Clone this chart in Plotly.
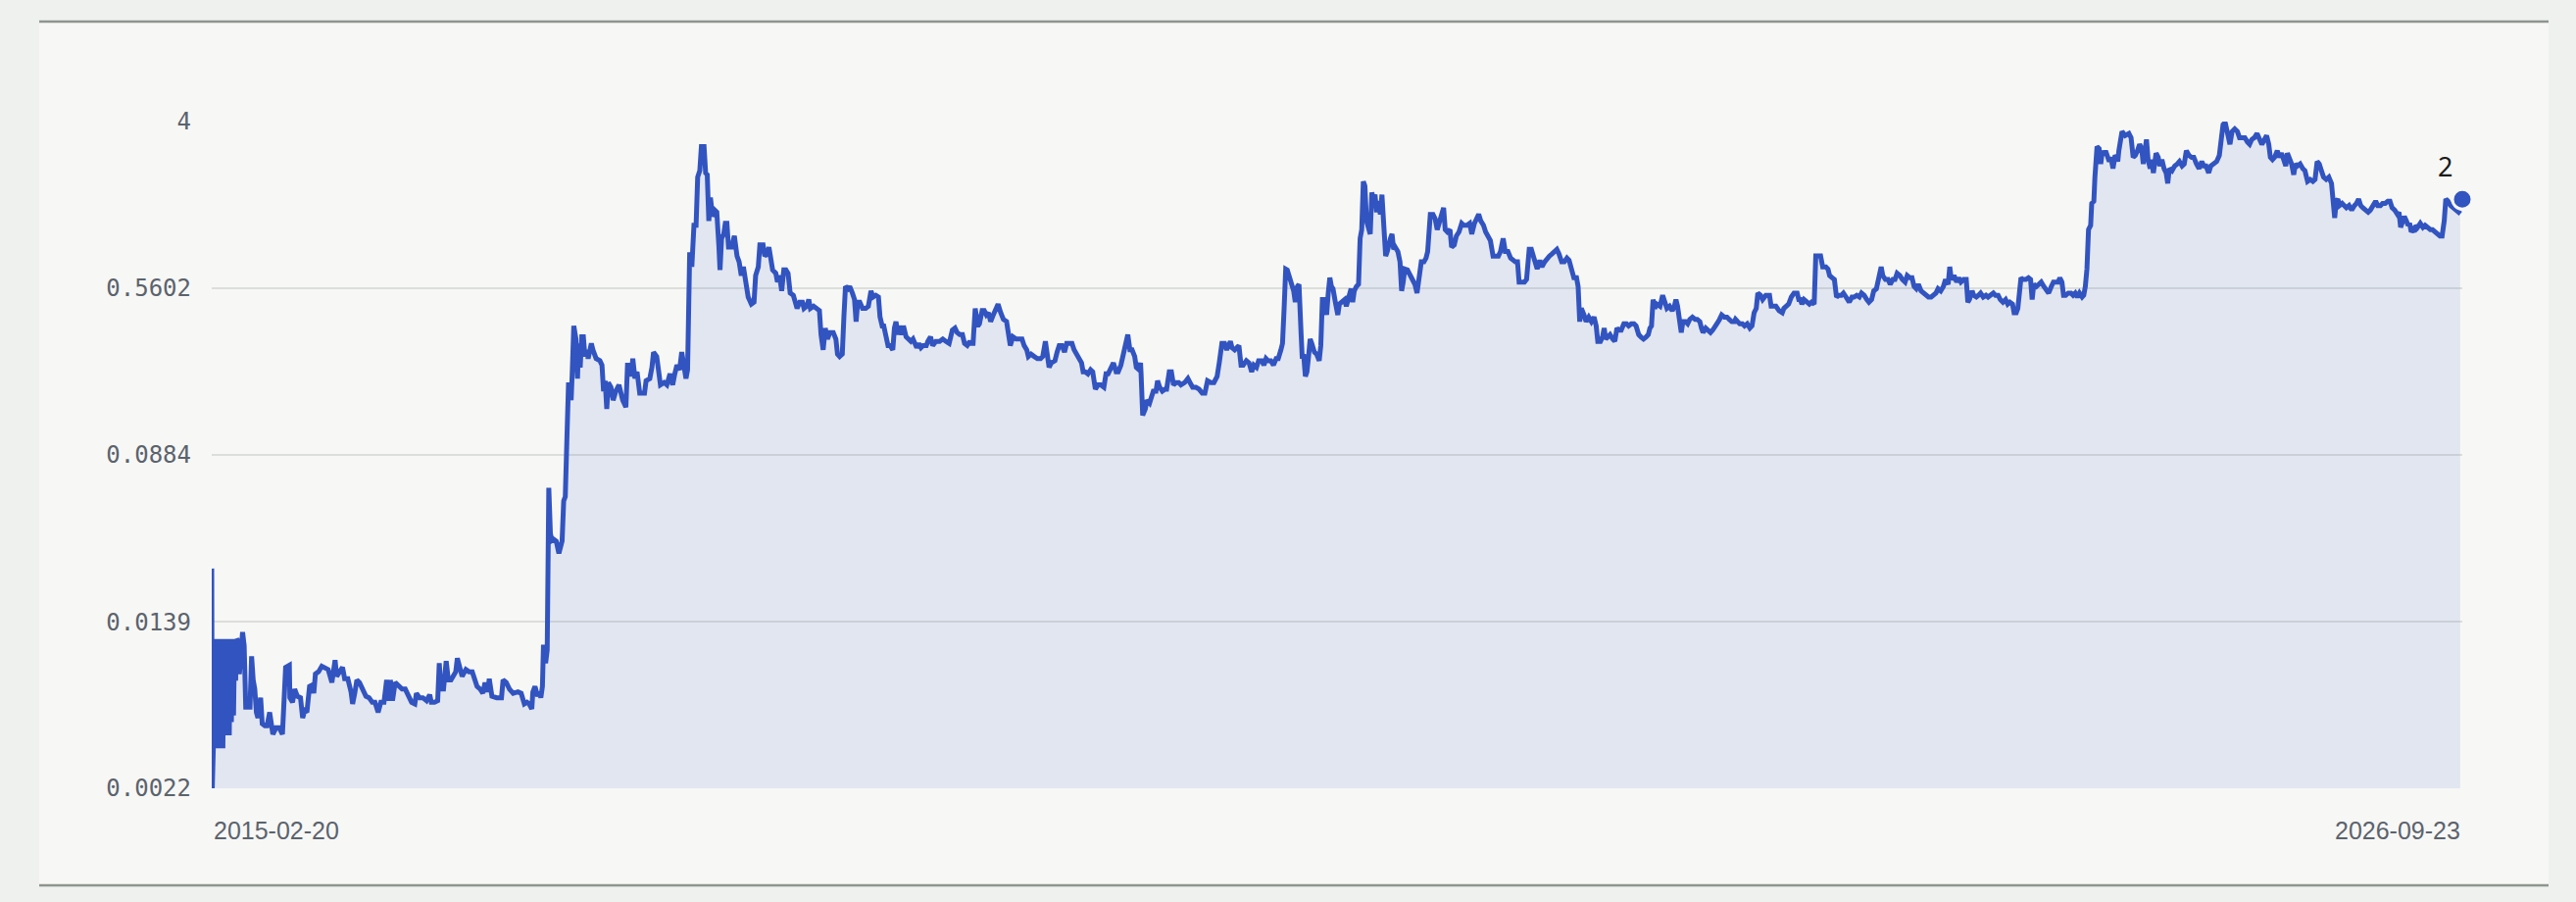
import numpy as np
import pandas as pd
import plotly.graph_objects as go

START = "2015-02-20"
END = "2026-09-23"

# y-axis ticks (log scale, evenly spaced in log) and their labels
y_tick_vals = [0.0022, 0.0139, 0.0884, 0.5602, 3.55]
y_tick_text = ["0.0022", "0.0139", "0.0884", "0.5602", "4"]

# --- series: days since START and values ---
days_2015 = [0, 1, 2, 3, 4, 5, 7, 9, 11, 13, 15, 17, 19, 21, 23, 25, 27, 29, 31, 33, 35, 37, 39, 41, 43, 45, 47,
             50, 52, 55, 58, 61, 64, 72, 75, 78, 81, 84, 87, 92, 95, 100, 104, 109, 112, 115, 121, 127, 133, 136,
             139, 146, 147, 152, 156, 161, 167, 171, 175, 179, 184, 189, 192, 195, 201, 207, 213, 219, 226, 232,
             235, 240, 246, 250, 256, 262, 265, 269, 273, 278, 284, 290, 296, 302, 307, 313, 318, 324, 329, 333,
             336, 340, 345, 351, 358, 364, 370, 376, 382, 385, 391, 397, 404, 410, 413, 419, 425, 428, 431, 436,
             441, 445, 450, 455, 459, 462, 467, 471, 478, 484, 490, 494, 499, 505, 510, 514, 519, 522, 527, 536,
             545, 548, 554, 560, 567, 576, 582, 588, 593, 597, 602, 604, 608, 613, 616, 619, 622, 624, 628, 631,
             633, 634, 637, 640, 643, 648, 653, 659, 662, 665, 668, 671, 674, 676, 678, 681, 685, 688, 690, 693,
             696, 699, 702, 705]
vals_2015 = [0.0251, 0.0022, 0.0115, 0.00343, 0.0115, 0.00343, 0.0115, 0.00343, 0.0115, 0.00343, 0.0115, 0.00343,
             0.0115, 0.00343, 0.0115, 0.00396, 0.0115, 0.00396, 0.0115, 0.00396, 0.0115, 0.00458, 0.0115, 0.00493,
             0.0115, 0.00726, 0.0115,
             0.0112, 0.0078, 0.0110, 0.0124, 0.0107, 0.0054, 0.0054, 0.0095, 0.0073, 0.0066, 0.0051, 0.0048, 0.0060,
             0.0045, 0.0044, 0.0044, 0.0051, 0.0043, 0.0040, 0.0043, 0.0043, 0.0040, 0.0053,
             0.0084, 0.0086, 0.0060, 0.0057, 0.0066, 0.0061, 0.0060, 0.0048, 0.0052, 0.0051, 0.0068, 0.0069, 0.0063,
             0.0078, 0.0080, 0.0085, 0.0083, 0.0082, 0.0071, 0.0091,
             0.0076, 0.0080, 0.0084, 0.0074, 0.0074, 0.0064, 0.0056, 0.0063, 0.0073, 0.0071, 0.0066, 0.0061, 0.0060,
             0.0057, 0.0057, 0.0051, 0.0057, 0.0057, 0.0073, 0.0058,
             0.0073, 0.0058, 0.0071, 0.0068, 0.0066, 0.0066, 0.0061, 0.0057, 0.0056, 0.0063, 0.0060, 0.0060, 0.0058,
             0.0062, 0.0057, 0.0057, 0.0058, 0.0088, 0.0066, 0.0066,
             0.0090, 0.0073, 0.0073, 0.0078, 0.0080, 0.0093, 0.0084, 0.0076, 0.0082, 0.0080, 0.0080, 0.0074, 0.0068,
             0.0066, 0.0063, 0.0071, 0.0064, 0.0074, 0.0061, 0.0060,
             0.0060, 0.0073, 0.0071, 0.0066, 0.0063, 0.0064, 0.0063, 0.0056, 0.0057, 0.0056, 0.0053, 0.0064, 0.0068,
             0.0061, 0.0064, 0.0060, 0.0068, 0.0108, 0.0088, 0.0102,
             0.0216, 0.0614, 0.0369, 0.0343, 0.0347, 0.0340, 0.0297, 0.0340, 0.0531, 0.0557, 0.1047, 0.192, 0.192,
             0.162, 0.217, 0.369, 0.320, 0.206, 0.304, 0.233,
             0.327, 0.327, 0.263, 0.283]

days_2017 = [708, 714, 717, 723, 730, 734, 737, 740, 743, 746, 751, 755, 760, 766, 773, 779, 782, 786, 789, 792,
             796, 800, 805, 809, 814, 817, 824, 828, 831, 837, 840, 844, 851, 856, 862, 867, 871, 875, 880, 884,
             888, 892, 895, 899, 903, 907, 911, 914, 918, 921, 926, 929, 932, 935, 938, 942, 946, 950, 954, 956,
             959, 963, 966, 969, 972, 978, 983, 988, 992, 996, 1000, 1004, 1009, 1015, 1020, 1023, 1028, 1031,
             1037, 1040, 1045, 1048, 1052, 1055, 1061, 1064, 1068, 1072, 1076, 1080, 1084, 1088, 1094, 1098, 1101,
             1106, 1111, 1114, 1119, 1123, 1126, 1132, 1138, 1143, 1146, 1150, 1154, 1158, 1163, 1169, 1174, 1177,
             1181, 1186, 1189, 1192, 1197, 1200, 1205, 1209, 1212, 1215, 1219, 1224, 1230, 1235, 1240, 1244, 1249,
             1254, 1257, 1261, 1264, 1268, 1272, 1276, 1281, 1284, 1287, 1291, 1294, 1298, 1301, 1306, 1310, 1315,
             1319, 1326, 1330, 1334, 1338, 1344, 1347, 1352, 1356, 1362, 1369, 1375, 1381, 1387, 1393, 1398, 1402,
             1407, 1412, 1416, 1421, 1426]
vals_2017 = [0.257, 0.304, 0.283, 0.257, 0.251, 0.239, 0.179, 0.201, 0.147, 0.197, 0.187, 0.162, 0.179, 0.192,
             0.162, 0.150, 0.239, 0.239, 0.211, 0.257,
             0.206, 0.222, 0.175, 0.175, 0.175, 0.201, 0.206, 0.233, 0.276, 0.263, 0.227, 0.192, 0.197, 0.192,
             0.217, 0.192, 0.217, 0.239, 0.227, 0.276,
             0.239, 0.206, 0.227, 0.834, 0.71, 1.125, 1.125, 1.92, 2.06, 2.69, 2.69, 2.01, 1.97, 1.18, 1.53, 1.24,
             1.33, 1.30, 0.883, 0.686,
             0.973, 1.021, 1.15, 1.15, 0.883, 0.883, 1.0, 0.80, 0.75, 0.645, 0.71, 0.617, 0.508, 0.470, 0.48, 0.645,
             0.71, 0.905,
             0.905, 0.80, 0.82, 0.883, 0.764, 0.686, 0.661, 0.60, 0.645, 0.544, 0.686, 0.686, 0.661, 0.531, 0.518,
             0.470, 0.448,
             0.48, 0.48, 0.448, 0.459, 0.494, 0.448, 0.459, 0.448, 0.437, 0.335, 0.283, 0.36, 0.319, 0.343, 0.343,
             0.319, 0.27,
             0.263, 0.27, 0.407, 0.571, 0.557, 0.571, 0.531, 0.494, 0.387, 0.48, 0.48, 0.448, 0.448, 0.459, 0.544,
             0.508, 0.518,
             0.508, 0.407, 0.369, 0.369, 0.335, 0.297, 0.297, 0.283, 0.36, 0.387, 0.335, 0.369, 0.335, 0.369, 0.327,
             0.319, 0.311,
             0.319, 0.29, 0.304, 0.29, 0.297, 0.297, 0.311, 0.327, 0.297, 0.311, 0.311, 0.319, 0.311, 0.304, 0.352,
             0.36, 0.343,
             0.335, 0.335, 0.304, 0.297, 0.311]

days_2019 = [1428, 1432, 1436, 1441, 1444, 1449, 1453, 1457, 1461, 1465, 1470, 1475, 1479, 1484, 1489, 1495, 1498,
             1502, 1507, 1513, 1519, 1524, 1528, 1533, 1536, 1541, 1547, 1553, 1559, 1563, 1568, 1571, 1575, 1579,
             1586, 1590, 1594, 1599, 1604, 1608, 1613, 1618, 1622, 1627, 1631, 1636, 1639, 1643, 1648, 1653, 1657,
             1662, 1667, 1672, 1678, 1682, 1686, 1691, 1696, 1701, 1705, 1710, 1715, 1719, 1723, 1727, 1731, 1736,
             1739, 1744, 1747, 1748, 1751, 1756, 1759, 1764, 1768, 1771, 1776, 1779, 1783, 1788, 1793, 1796, 1801,
             1805, 1809, 1814, 1819, 1823, 1830, 1836, 1840, 1845, 1851, 1857, 1863, 1868, 1873, 1879, 1885, 1891,
             1895, 1900, 1905, 1909, 1916, 1919, 1924, 1928, 1932, 1936, 1940, 1946, 1951, 1956, 1960, 1965, 1969,
             1975, 1979, 1983, 1987, 1992, 1997, 2002, 2006, 2011, 2014, 2017, 2020, 2023, 2026, 2029, 2032, 2035,
             2038, 2042, 2045, 2046, 2049, 2051, 2054, 2057, 2060, 2063, 2066, 2069, 2074, 2078, 2083, 2086, 2089,
             2093, 2097, 2100, 2103, 2106, 2109, 2114, 2118, 2121, 2126, 2131, 2134, 2139, 2143]
vals_2019 = [0.304, 0.304, 0.448, 0.369, 0.378, 0.437, 0.437, 0.417, 0.427, 0.387, 0.417, 0.448, 0.470, 0.427,
             0.397, 0.387, 0.335,
             0.297, 0.327, 0.319, 0.319, 0.319, 0.297, 0.283, 0.263, 0.27, 0.263, 0.257, 0.257, 0.263, 0.311, 0.263,
             0.233, 0.245,
             0.251, 0.276, 0.297, 0.297, 0.276, 0.304, 0.304, 0.304, 0.283, 0.27, 0.257, 0.245, 0.222, 0.222, 0.217,
             0.227, 0.222,
             0.183, 0.192, 0.192, 0.187, 0.217, 0.217, 0.233, 0.245, 0.222, 0.222, 0.239, 0.276, 0.29, 0.335, 0.283,
             0.283, 0.263,
             0.233, 0.227, 0.245, 0.217, 0.137, 0.147, 0.162, 0.157, 0.166, 0.179, 0.179, 0.201, 0.187, 0.179, 0.183,
             0.183, 0.222,
             0.222, 0.192, 0.197, 0.197, 0.192, 0.197, 0.206, 0.197, 0.187, 0.187, 0.183, 0.175, 0.175, 0.201, 0.197,
             0.197, 0.211,
             0.245, 0.304, 0.304, 0.283, 0.311, 0.29, 0.283, 0.29, 0.297, 0.239, 0.239, 0.251, 0.245, 0.222, 0.239,
             0.233, 0.251,
             0.251, 0.239, 0.257, 0.251, 0.251, 0.239, 0.257, 0.257, 0.283, 0.304, 0.448, 0.693, 0.686, 0.645, 0.617,
             0.571, 0.544,
             0.48, 0.571, 0.585, 0.459, 0.335, 0.263, 0.263, 0.211, 0.222, 0.263, 0.319, 0.304, 0.276, 0.27, 0.251,
             0.297, 0.494,
             0.494, 0.417, 0.531, 0.629, 0.571, 0.557, 0.470, 0.417, 0.470, 0.48, 0.494, 0.459, 0.518, 0.557]

days_2021 = [2146, 2149, 2153, 2157, 2160, 2163, 2166, 2169, 2172, 2176, 2179, 2182, 2185, 2188, 2191, 2194, 2198,
             2201, 2204, 2208, 2211, 2214, 2217, 2220, 2223, 2226, 2231, 2235, 2238, 2241, 2244, 2249, 2254, 2259,
             2263, 2267, 2271, 2275, 2280, 2284, 2287, 2290, 2292, 2297, 2301, 2305, 2308, 2312, 2317, 2320, 2324,
             2329, 2332, 2337, 2341, 2346, 2351, 2355, 2361, 2366, 2370, 2375, 2380, 2383, 2387, 2392, 2396, 2401,
             2405, 2410, 2415, 2420, 2424, 2429, 2433, 2438, 2443, 2447, 2452, 2456, 2459, 2464, 2469, 2473, 2478,
             2482, 2486, 2489, 2493, 2498, 2502, 2507, 2512, 2516, 2521, 2526, 2530, 2534, 2539, 2544, 2549, 2553,
             2558, 2562, 2567, 2570, 2573, 2576, 2581, 2585, 2590, 2595, 2600, 2604, 2607, 2612, 2616, 2619, 2622,
             2627, 2630, 2635, 2639, 2643, 2647, 2651, 2656, 2661, 2665, 2670, 2675, 2679, 2684, 2688, 2693, 2698,
             2702, 2705, 2708, 2711, 2714, 2718, 2724, 2729, 2733, 2737, 2742, 2747, 2751, 2754, 2757, 2761, 2764,
             2767, 2772, 2776, 2780, 2785, 2790, 2794, 2799, 2802, 2805, 2810, 2815, 2819, 2823, 2827, 2831, 2836,
             2840, 2845, 2850, 2854, 2859, 2864]
vals_2021 = [0.48, 0.544, 0.571, 0.585, 0.973, 1.072, 1.83, 1.74, 1.18, 1.072, 1.021, 1.62, 1.505, 1.58, 1.30,
             1.47, 1.27,
             1.58, 1.125, 0.80, 0.841, 0.927, 0.973, 1.021, 0.862, 0.883, 0.841, 0.75, 0.544, 0.60, 0.693, 0.686,
             0.645, 0.617,
             0.585, 0.531, 0.617, 0.75, 0.75, 0.783, 0.841, 1.021, 1.27, 1.27, 1.21, 1.072, 1.15, 1.21, 1.366, 1.072,
             1.046,
             1.072, 0.883, 0.905, 1.0, 1.046, 1.15, 1.125, 1.125, 1.15, 1.021, 1.15, 1.21, 1.27, 1.18, 1.125, 1.046,
             1.0,
             0.95, 0.80, 0.80, 0.80, 0.841, 0.973, 0.841, 0.841, 0.783, 0.764, 0.75, 0.75, 0.60, 0.60, 0.60, 0.617,
             0.862,
             0.862, 0.80, 0.764, 0.693, 0.764, 0.71, 0.75, 0.783, 0.80, 0.82, 0.841, 0.862, 0.82, 0.75, 0.75, 0.783,
             0.764,
             0.686, 0.629, 0.629, 0.571, 0.387, 0.448, 0.417, 0.387, 0.407, 0.387, 0.407, 0.369, 0.311, 0.311, 0.327,
             0.36, 0.319,
             0.327, 0.335, 0.319, 0.311, 0.36, 0.352, 0.352, 0.378, 0.378, 0.369, 0.378, 0.378, 0.369, 0.335, 0.327,
             0.319, 0.327,
             0.335, 0.36, 0.369, 0.494, 0.448, 0.470, 0.459, 0.518, 0.48, 0.448, 0.459, 0.437, 0.459, 0.494, 0.459,
             0.36, 0.343,
             0.387, 0.387, 0.378, 0.397, 0.407, 0.397, 0.397, 0.387, 0.36, 0.343, 0.36, 0.352, 0.343, 0.352, 0.369,
             0.378, 0.397,
             0.417, 0.407, 0.407, 0.397, 0.387, 0.387]

days_2023 = [2866, 2870, 2874, 2879, 2883, 2888, 2893, 2897, 2901, 2905, 2908, 2913, 2917, 2923, 2930, 2933, 2938,
             2942, 2948, 2954, 2957, 2962, 2966, 2971, 2976, 2982, 2985, 2988, 2991, 2995, 3000, 3005, 3009, 3014,
             3017, 3022, 3026, 3030, 3036, 3040, 3043, 3048, 3052, 3056, 3060, 3065, 3069, 3074, 3080, 3085, 3089,
             3094, 3099, 3103, 3108, 3113, 3117, 3122, 3126, 3131, 3135, 3140, 3143, 3148, 3153, 3157, 3162, 3166,
             3170, 3175, 3180, 3185, 3189, 3194, 3198, 3202, 3206, 3210, 3215, 3220, 3225, 3229, 3234, 3239, 3243,
             3247, 3252, 3257, 3261, 3266, 3269, 3272, 3277, 3282, 3286, 3290, 3295, 3300, 3303, 3306, 3311, 3314,
             3319, 3323, 3327, 3332, 3337, 3341, 3346, 3351, 3355, 3360, 3364, 3369, 3374, 3378, 3382, 3387, 3390,
             3394, 3397, 3400, 3403, 3407, 3412, 3417, 3421, 3424, 3427, 3432, 3437, 3441, 3446, 3450, 3455, 3460,
             3464, 3468, 3473, 3476, 3480, 3483, 3487, 3492, 3497, 3501, 3505, 3509, 3513, 3518, 3521, 3524, 3527,
             3530, 3534, 3536, 3540, 3542, 3544, 3546, 3550, 3553, 3556, 3559, 3562, 3566, 3569, 3572, 3576, 3580,
             3583]
vals_2023 = [0.397, 0.387, 0.378, 0.378, 0.369, 0.378, 0.36, 0.369, 0.427, 0.448, 0.531, 0.518, 0.494, 0.518,
             0.518, 0.459, 0.459,
             0.459, 0.437, 0.427, 0.448, 0.459, 0.470, 0.508, 0.531, 0.531, 0.494, 0.494, 0.470, 0.494, 0.48, 0.470,
             0.48, 0.470,
             0.802, 0.802, 0.802, 0.71, 0.71, 0.693, 0.645, 0.629, 0.617, 0.508, 0.518, 0.518, 0.531, 0.508, 0.48,
             0.508, 0.508,
             0.518, 0.508, 0.531, 0.518, 0.494, 0.48, 0.494, 0.544, 0.557, 0.617, 0.71, 0.645, 0.617, 0.617, 0.585,
             0.617, 0.617,
             0.661, 0.645, 0.617, 0.60, 0.645, 0.629, 0.629, 0.571, 0.557, 0.585, 0.544, 0.531, 0.518, 0.508, 0.508,
             0.518, 0.531,
             0.557, 0.544, 0.571, 0.617, 0.585, 0.71, 0.617, 0.645, 0.60, 0.629, 0.60, 0.617, 0.617, 0.48, 0.494,
             0.544, 0.518,
             0.508, 0.518, 0.531, 0.508, 0.518, 0.508, 0.518, 0.531, 0.518, 0.518, 0.494, 0.48, 0.494, 0.470, 0.48,
             0.470, 0.427,
             0.427, 0.448, 0.544, 0.629, 0.617, 0.617, 0.629, 0.617, 0.494, 0.585, 0.571, 0.585, 0.60, 0.571, 0.557,
             0.531, 0.571,
             0.60, 0.60, 0.60, 0.629, 0.60, 0.518, 0.518, 0.531, 0.531, 0.518, 0.531, 0.508, 0.531, 0.508, 0.518,
             0.571, 0.693,
             1.072, 1.125, 1.434, 1.47, 1.92, 2.57, 2.69, 2.63, 2.22, 2.57, 2.44, 2.57, 2.33, 2.28, 2.39, 2.11, 2.44,
             2.39]

days_2025 = [3585, 3587, 3593, 3599, 3606, 3610, 3614, 3618, 3622, 3626, 3630, 3633, 3636, 3639, 3642, 3646, 3649,
             3652, 3657, 3661, 3664, 3668, 3672, 3676, 3679, 3682, 3687, 3692, 3697, 3701, 3706, 3710, 3714, 3719,
             3724, 3728, 3733, 3738, 3743, 3747, 3751, 3756, 3760, 3765, 3771, 3776, 3779, 3783, 3787, 3791, 3796,
             3800, 3805, 3810, 3814, 3819, 3824, 3829, 3833, 3837, 3842, 3847, 3851, 3856, 3861, 3865, 3869, 3872,
             3876, 3880, 3885, 3889, 3893, 3897, 3901, 3904, 3908, 3912, 3916, 3919, 3923, 3928, 3933, 3937, 3942,
             3947, 3952, 3956, 3960, 3964, 3968, 3972, 3977, 3982, 3987, 3990, 3993, 3996, 3999, 4002, 4007, 4011,
             4015, 4020, 4025, 4030, 4034, 4038, 4042, 4046, 4051, 4056, 4060, 4065, 4070, 4074, 4079, 4083, 4088,
             4093, 4097, 4101, 4106, 4111, 4114, 4117, 4120, 4124, 4128, 4131, 4134, 4137, 4140, 4143, 4146, 4149,
             4154, 4159, 4163, 4168, 4173, 4177, 4181, 4186, 4191, 4195, 4199, 4202, 4206, 4211, 4216, 4220, 4226,
             4229]
vals_2025 = [2.28, 2.57, 3.18, 3.04, 3.11, 2.97, 2.39, 2.44, 2.57, 2.76, 2.63, 2.22, 2.57, 2.91, 2.33, 2.11, 2.33,
             2.01, 2.50, 2.39, 2.17, 2.33, 2.11, 2.01, 1.79, 2.11, 2.06, 2.17, 2.22, 2.28, 2.17, 2.22, 2.57, 2.44,
             2.39, 2.39, 2.22, 2.11, 2.28, 2.17, 2.17, 2.01, 2.17, 2.22, 2.28, 2.44, 2.97, 3.43, 3.52, 3.18, 2.76,
             3.18, 3.27, 3.18, 2.97, 2.97, 2.97, 2.83, 2.76, 2.91, 2.97, 3.11, 2.97, 2.76, 2.91, 3.04, 2.76, 2.39,
             2.33, 2.39, 2.57, 2.39, 2.50, 2.33, 2.17, 2.50, 2.33, 2.22, 1.97, 2.22, 2.17, 2.22, 2.11, 2.06, 1.83,
             1.87, 1.83, 1.87, 2.28, 2.22, 2.06, 1.92, 1.87, 1.92, 1.79, 1.55, 1.22, 1.47, 1.505, 1.40, 1.434, 1.40,
             1.366, 1.40, 1.33, 1.40, 1.434, 1.505, 1.40, 1.366, 1.33, 1.30, 1.33, 1.40, 1.47, 1.40, 1.40, 1.434,
             1.434, 1.47, 1.47, 1.366, 1.33, 1.27, 1.30, 1.10, 1.15, 1.24, 1.18, 1.125, 1.15, 1.046, 1.072, 1.046,
             1.125, 1.10, 1.15, 1.10, 1.125, 1.10, 1.072, 1.072, 1.046, 1.021, 1.0, 1.0, 1.18, 1.505, 1.47, 1.40,
             1.366, 1.33, 1.30, 1.33]

# latest point marker and its rounded label
last_day = [4233]
last_val = [1.50]
last_label = "2"

# ---------------------------------------------------------------
days = days_2015 + days_2017 + days_2019 + days_2021 + days_2023 + days_2025
vals = vals_2015 + vals_2017 + vals_2019 + vals_2021 + vals_2023 + vals_2025
start = pd.Timestamp(START)
dates = start + pd.to_timedelta(days, unit="D")
last_date = start + pd.to_timedelta(last_day, unit="D")

LINE = "#3254c0"
CARD = "#f7f7f5"
OUTER = "#eff1ee"
BORDER = "#8e958f"
GRID = "#dcdedb"
TICK = "#5b636d"

fig = go.Figure()
fig.add_trace(go.Scatter(
    x=dates, y=vals, mode="lines",
    line=dict(color=LINE, width=5),
    fill="tozeroy", fillcolor="rgba(50,84,192,0.10)",
    hoverinfo="skip", showlegend=False,
))
fig.add_trace(go.Scatter(
    x=last_date, y=last_val, mode="markers",
    marker=dict(color=LINE, size=20, line=dict(color=CARD, width=3)),
    cliponaxis=False,
    hoverinfo="skip", showlegend=False,
))

W, H = 2628, 920
ml, mr, mt, mb = 216, 116, 124, 116
pw, ph = W - ml - mr, H - mt - mb

def px(x):
    return (x - ml) / pw

def py(y):
    return (H - mb - y) / ph

card_x0, card_x1 = px(40), px(2600)
card_y0, card_y1 = py(903), py(22)

shapes = [
    dict(type="rect", xref="paper", yref="paper", x0=card_x0, x1=card_x1, y0=card_y0, y1=card_y1,
         fillcolor=CARD, line=dict(width=0), layer="below"),
    dict(type="line", xref="paper", yref="paper", x0=card_x0, x1=card_x1, y0=card_y1, y1=card_y1,
         line=dict(color=BORDER, width=2.5), layer="below"),
    dict(type="line", xref="paper", yref="paper", x0=card_x0, x1=card_x1, y0=card_y0, y1=card_y0,
         line=dict(color=BORDER, width=2.5), layer="below"),
]

annotations = [
    dict(x=START, y=0, xref="x", yref="paper", text=START, showarrow=False,
         xanchor="left", yanchor="middle", yshift=-43,
         font=dict(family="Liberation Sans, Arial, sans-serif", size=25, color=TICK)),
    dict(x=END, y=0, xref="x", yref="paper", text=END, showarrow=False,
         xanchor="right", yanchor="middle", yshift=-43,
         font=dict(family="Liberation Sans, Arial, sans-serif", size=25, color=TICK)),
    dict(x=last_date[0], y=np.log10(last_val[0]), xref="x", yref="y", text=last_label, showarrow=False,
         xanchor="center", yanchor="middle", xshift=-18, yshift=34,
         font=dict(family="Noto Sans, DejaVu Sans, sans-serif", size=27, color="#1b1b1b")),
]

fig.update_layout(
    width=W, height=H,
    margin=dict(l=ml, r=mr, t=mt, b=mb, pad=0),
    paper_bgcolor=OUTER, plot_bgcolor="rgba(0,0,0,0)",
    shapes=shapes, annotations=annotations,
    showlegend=False,
    xaxis=dict(type="date", range=[START, END], showgrid=False, zeroline=False,
               showticklabels=False, ticks="", showline=False, fixedrange=True),
    yaxis=dict(type="log",
               range=[np.log10(y_tick_vals[0]), np.log10(y_tick_vals[-1])],
               tickvals=y_tick_vals, ticktext=y_tick_text,
               showgrid=True, gridcolor=GRID, gridwidth=2,
               zeroline=False, showline=False, ticks="",
               ticklabelstandoff=20,
               tickfont=dict(family="DejaVu Sans Mono, monospace", size=24, color=TICK),
               fixedrange=True),
)

fig.write_html(
    "out.html",
    config={"displayModeBar": False},
    post_script="document.body.style.margin='0px';document.body.style.overflow='hidden';",
)
